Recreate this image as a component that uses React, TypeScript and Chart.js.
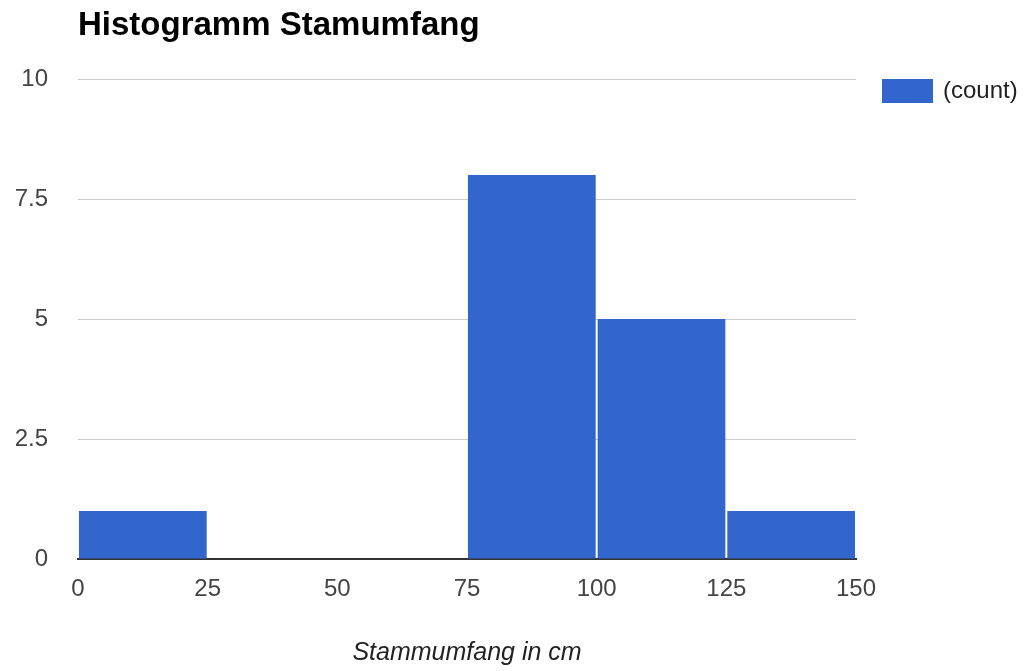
import React, { useEffect, useRef } from "react";
import { Chart, registerables } from "chart.js";

Chart.register(...registerables);

// ---- data ----
const chartTitle = "Histogramm Stamumfang";
const xAxisTitle = "Stammumfang in cm";
const seriesName = "(count)";
const binEdges = [0, 25, 50, 75, 100, 125, 150];
const counts = [1, 0, 0, 8, 5, 1];
const yTickValues = [0, 2.5, 5, 7.5, 10];
const xTickValues = [0, 25, 50, 75, 100, 125, 150];

const FONT = "'Liberation Sans', Arial, sans-serif";
const BAR_COLOR = "#3366cc";

const titlePlugin = {
  id: "customTitle",
  afterDraw(chart: any) {
    const { ctx, chartArea } = chart;
    ctx.save();
    ctx.fillStyle = "#000";
    ctx.font = `bold 33px ${FONT}`;
    ctx.textAlign = "left";
    ctx.textBaseline = "alphabetic";
    ctx.fillText(chartTitle, chartArea.left, 35);
    ctx.restore();
  },
};

const legendPlugin = {
  id: "customLegend",
  afterDraw(chart: any) {
    const { ctx, chartArea } = chart;
    const x = chartArea.right + 26;
    const y = chartArea.top;
    ctx.save();
    ctx.fillStyle = BAR_COLOR;
    ctx.fillRect(x, y, 51, 24);
    ctx.fillStyle = "#222";
    ctx.font = `24px ${FONT}`;
    ctx.textAlign = "left";
    ctx.textBaseline = "middle";
    ctx.fillText(seriesName, x + 61, y + 12);
    ctx.restore();
  },
};

export default function App() {
  const canvasRef = useRef<HTMLCanvasElement | null>(null);

  useEffect(() => {
    const canvas = canvasRef.current;
    if (!canvas) return;
    const points = counts.map((c, i) => ({
      x: (binEdges[i] + binEdges[i + 1]) / 2,
      y: c,
    }));
    const chart = new Chart(canvas, {
      type: "bar",
      data: {
        datasets: [
          {
            label: seriesName,
            data: points as any,
            backgroundColor: BAR_COLOR,
            borderWidth: 0,
            barPercentage: 0.985,
            categoryPercentage: 1,
          },
        ],
      },
      options: {
        responsive: false,
        animation: false,
        layout: { padding: { left: 0, right: 171, top: 79, bottom: 0 } },
        plugins: {
          legend: { display: false },
          tooltip: { enabled: false },
          title: { display: false },
        },
        scales: {
          x: {
            type: "linear",
            offset: false,
            min: binEdges[0],
            max: binEdges[binEdges.length - 1],
            z: 1,
            afterBuildTicks(scale: any) {
              scale.ticks = xTickValues.map((v) => ({ value: v }));
            },
            afterFit(scale: any) {
              scale.height = 112;
            },
            grid: { display: false, drawTicks: false, offset: false },
            border: { display: true, color: "#333", width: 2 },
            ticks: {
              color: "#444",
              font: { family: FONT, size: 24 },
              padding: 16,
              maxRotation: 0,
              autoSkip: false,
            },
            title: {
              display: true,
              text: xAxisTitle,
              color: "#222",
              font: { family: FONT, size: 25, style: "italic" },
              padding: { top: 0, bottom: 3 },
            },
          },
          y: {
            type: "linear",
            min: 0,
            max: 10,
            afterBuildTicks(scale: any) {
              scale.ticks = yTickValues.map((v) => ({ value: v }));
            },
            afterFit(scale: any) {
              scale.width = 78;
            },
            grid: {
              color: "#cccccc",
              lineWidth: 1,
              drawTicks: false,
            },
            border: { display: false },
            ticks: {
              color: "#444",
              font: { family: FONT, size: 24 },
              padding: 30,
            },
          },
        },
      },
      plugins: [titlePlugin, legendPlugin],
    });
    return () => chart.destroy();
  }, []);

  return (
    <div
      style={{
        position: "fixed",
        left: 0,
        top: 0,
        width: 1027,
        height: 671,
        background: "#fff",
      }}
    >
      <canvas
        ref={canvasRef}
        width={1027}
        height={671}
        style={{ width: 1027, height: 671, display: "block" }}
      />
    </div>
  );
}
